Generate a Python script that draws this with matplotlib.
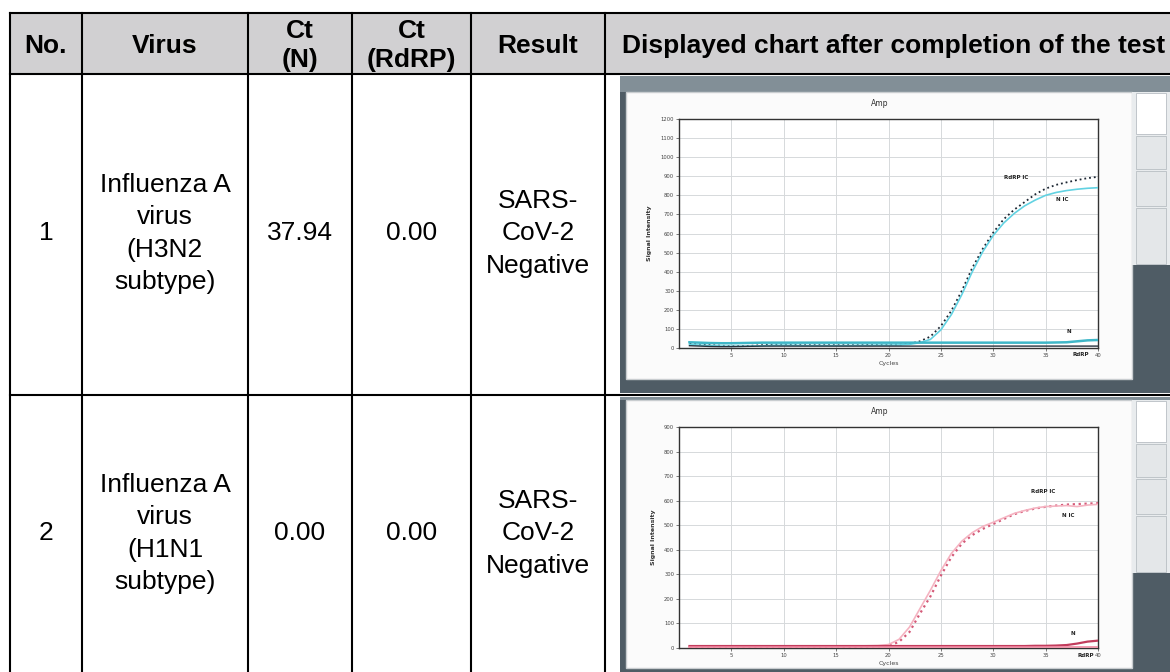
import matplotlib
matplotlib.use("Agg")
import matplotlib.pyplot as plt
from matplotlib.patches import Rectangle
import numpy as np

# ---------------- data ----------------
col_headers = ["No.", "Virus", "Ct\n(N)", "Ct\n(RdRP)", "Result",
               "Displayed chart after completion of the test"]
row_no = ["1", "2"]
row_virus = ["Influenza A\nvirus\n(H3N2\nsubtype)", "Influenza A\nvirus\n(H1N1\nsubtype)"]
row_ct_n = ["37.94", "0.00"]
row_ct_rdrp = ["0.00", "0.00"]
row_result = ["SARS-\nCoV-2\nNegative", "SARS-\nCoV-2\nNegative"]

cycles = list(range(1, 41))
# chart 1 (row 1)
c1_rdrp_ic = [22, 18, 15, 12, 10, 10, 12, 15, 18, 18, 16, 15, 15, 15, 15, 15, 15, 16, 16, 17,
              18, 22, 35, 60, 115, 195, 300, 420, 520, 605, 675, 725, 765, 805, 835, 855, 868, 880, 890, 897]
c1_n_ic = [18, 15, 12, 10, 9, 9, 10, 12, 14, 15, 14, 13, 13, 13, 13, 13, 14, 14, 15, 15,
           16, 19, 28, 45, 95, 175, 280, 400, 505, 590, 655, 705, 745, 775, 800, 815, 825, 832, 837, 840]
c1_n = [30, 28, 26, 25, 25, 26, 27, 28, 28, 28, 28, 28, 28, 28, 28, 28, 28, 28, 28, 28,
        28, 28, 28, 28, 28, 28, 28, 28, 28, 28, 28, 28, 28, 28, 28, 29, 30, 35, 40, 42]
c1_rdrp = [12, 10, 8, 7, 7, 8, 9, 10, 10, 10, 10, 10, 10, 10, 10, 10, 10, 10, 10, 10,
           10, 10, 10, 10, 10, 10, 10, 10, 10, 10, 10, 10, 10, 10, 10, 10, 10, 10, 10, 10]
# chart 2 (row 2)
c2_rdrp_ic = [5, 5, 5, 5, 5, 5, 5, 5, 5, 5, 5, 5, 5, 5, 5, 5, 5, 6, 7, 8,
              25, 65, 140, 210, 295, 370, 425, 460, 485, 505, 525, 545, 558, 568, 575, 580, 584, 586, 588, 590]
c2_n_ic = [6, 6, 6, 6, 6, 6, 6, 6, 6, 6, 6, 6, 6, 6, 6, 7, 8, 9, 10, 14,
           35, 85, 160, 235, 315, 385, 435, 470, 495, 512, 530, 548, 560, 570, 576, 578, 580, 576, 582, 585]
c2_n = [8, 8, 8, 8, 8, 8, 8, 8, 8, 8, 8, 8, 8, 8, 8, 8, 8, 8, 8, 8,
        8, 8, 8, 8, 8, 8, 8, 8, 8, 8, 8, 8, 8, 9, 9, 10, 12, 18, 26, 30]
c2_rdrp = [3, 3, 3, 3, 3, 3, 3, 3, 3, 3, 3, 3, 3, 3, 3, 3, 3, 3, 3, 3,
           3, 3, 3, 3, 3, 3, 3, 3, 3, 3, 3, 3, 3, 3, 3, 3, 3, 3, 3, 3]
curve_labels = ["RdRP IC", "N IC", "N", "RdRP"]
chart_ymax = [1200, 900]

# ---------------- layout (pixels) ----------------
W, H = 1170, 672
fig = plt.figure(figsize=(W / 100, H / 100), dpi=100)
base = fig.add_axes([0, 0, 1, 1])
base.set_xlim(0, W)
base.set_ylim(H, 0)
base.axis("off")

FONT = "Liberation Sans"
col_x = [10, 82, 248, 352, 471, 605, 1180]
row_y = [13, 74, 395, 680]
LW = 1.5

renderer = fig.canvas.get_renderer()


def fit_size(text, weight, target):
    t = base.text(0, 0, text, fontsize=10, fontfamily=FONT, fontweight=weight)
    w = t.get_window_extent(renderer).width
    t.remove()
    return 10 * target / w


hdr_fs = fit_size(col_headers[5], "bold", 542)
body_fs = fit_size("Influenza A", "normal", 131)

# header background
base.add_patch(Rectangle((col_x[0], row_y[0]), col_x[-1] - col_x[0], row_y[1] - row_y[0],
                         facecolor="#d1d0d2", edgecolor="none", zorder=0))


def cell_text(text, xc, yc, fs, weight, pitch):
    lines = text.split("\n")
    n = len(lines)
    em = fs * 100 / 72
    for i, ln in enumerate(lines):
        ymid = yc + (i - (n - 1) / 2) * pitch
        base.text(xc, ymid + 0.36 * em, ln, ha="center", va="baseline", fontsize=fs,
                  fontfamily=FONT, fontweight=weight, color="black", zorder=5)


# header texts
for j, h in enumerate(col_headers):
    if j < 5:
        xc = (col_x[j] + col_x[j + 1]) / 2
    else:
        xc = 894
    cell_text(h, xc, 43.5, hdr_fs, "bold", 29)

# body texts
row_centers = [231, 531]
for r in range(2):
    yc = row_centers[r]
    vals = [row_no[r], row_virus[r], row_ct_n[r], row_ct_rdrp[r], row_result[r]]
    for j, v in enumerate(vals):
        xc = (col_x[j] + col_x[j + 1]) / 2
        cell_text(v, xc, yc, body_fs, "normal", 32.5)

# ---------------- screenshots ----------------
def px_box(x0, y0, x1, y1):
    return [x0 / W, 1 - y1 / H, (x1 - x0) / W, (y1 - y0) / H]


shots = [
    dict(top=76, bot=393, wtop=92, wbot=379, ax=(679, 119, 1098, 348), title_y=103, xl_y=370),
    dict(top=397, bot=673, wtop=400, wbot=668, ax=(679, 427, 1098, 648), title_y=411, xl_y=669),
]
series = [
    [(c1_rdrp_ic, "#1d2733", ":", 1.3), (c1_n_ic, "#62d2e2", "-", 1.2),
     (c1_n, "#3fb7c8", "-", 1.8), (c1_rdrp, "#26323e", "-", 1.0)],
    [(c2_rdrp_ic, "#d45a78", ":", 1.6), (c2_n_ic, "#f5b3c1", "-", 1.2),
     (c2_n, "#c23c5c", "-", 1.6), (c2_rdrp, "#f08aa2", "-", 1.2)],
]
label_pos = [
    [(31.0, 885), (36.0, 770), (37.0, 80), (37.6, -40)],
    [(33.6, 632), (36.6, 535), (37.4, 52), (38.0, -36)],
]

for k, s in enumerate(shots):
    x0 = 620
    # outer frame
    base.add_patch(Rectangle((x0, s["top"]), W - x0 + 5, s["bot"] - s["top"],
                             facecolor="#4f5c65", edgecolor="none", zorder=1))
    base.add_patch(Rectangle((x0, s["top"]), W - x0 + 5, s["wtop"] - s["top"],
                             facecolor="#828f97", edgecolor="none", zorder=1.1))
    # white panel
    base.add_patch(Rectangle((626, s["wtop"]), 1132 - 626, s["wbot"] - s["wtop"],
                             facecolor="#fbfbfb", edgecolor="#c9cdd0", lw=1.0, zorder=1.2))
    # tab column
    tab_top = s["wtop"]
    tab_bounds = [tab_top, tab_top + 43, tab_top + 78, tab_top + 115, tab_top + 173]
    base.add_patch(Rectangle((1132, tab_top), 40, tab_bounds[-1] - tab_top,
                             facecolor="#e9ecee", edgecolor="none", zorder=1.2))
    for b in range(4):
        fc = "#ffffff" if b == 0 else "#e4e7e9"
        base.add_patch(Rectangle((1136, tab_bounds[b] + 1), 30, tab_bounds[b + 1] - tab_bounds[b] - 2,
                                 facecolor=fc, edgecolor="#b8bec3", lw=0.6, zorder=1.3))

    ax = fig.add_axes(px_box(*s["ax"]))
    ax.set_facecolor("white")
    ymax = chart_ymax[k]
    ax.set_xlim(0, 40)
    ax.set_ylim(0, ymax)
    ax.set_xticks(np.arange(5, 45, 5))
    ax.set_yticks(np.arange(0, ymax + 1, 100))
    ax.grid(True, color="#d6d9db", lw=0.7)
    ax.tick_params(labelsize=3.8, length=2, width=0.5, colors="#444444", pad=1.5)
    for sp in ax.spines.values():
        sp.set_color("#333333")
        sp.set_linewidth(1.0)
    for (vals, col, ls, lw) in series[k]:
        ax.plot(cycles, vals, color=col, ls=ls, lw=lw, zorder=3)
    for (lx, ly), lab in zip(label_pos[k], curve_labels):
        ax.text(lx, ly, lab, fontsize=4, fontweight="bold", color="#222222",
                fontfamily="DejaVu Sans", clip_on=False, zorder=4)
    ax.set_xlabel("Cycles", fontsize=4.5, color="#444444", labelpad=2)
    ax.set_ylabel("Signal Intensity", fontsize=4.5, color="#333333", labelpad=6,
                  fontweight="bold")
    base.text(880, s["title_y"], "Amp", ha="center", va="center", fontsize=5.5,
              color="#333333", zorder=5)

# ---------------- table lines ----------------
for x in col_x[:-1]:
    base.plot([x, x], [row_y[0], row_y[-1]], color="black", lw=LW, zorder=6,
              solid_capstyle="projecting")
for y in row_y[:-1]:
    base.plot([col_x[0], col_x[-1]], [y, y], color="black", lw=LW, zorder=6,
              solid_capstyle="projecting")

fig.savefig("out.png", dpi=100)
